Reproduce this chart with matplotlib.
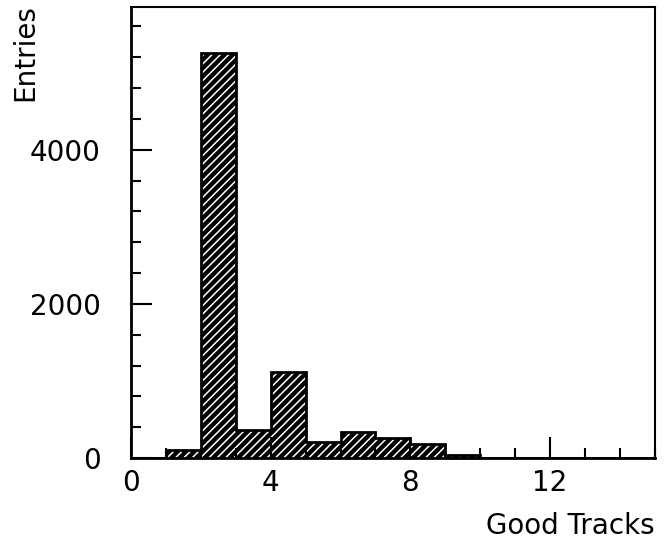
import numpy as np
import matplotlib
matplotlib.use('Agg')
from matplotlib import pyplot as plt
from matplotlib.ticker import MultipleLocator

# Histogram data: bin edges 0..15, entries per unit bin
bin_edges = np.arange(0, 16)
entries = [0, 110, 5250, 370, 1110, 205, 335, 255, 185, 35, 0, 0, 0, 0, 0]

plt.rcParams['hatch.linewidth'] = 1.1
plt.rcParams['font.family'] = 'DejaVu Sans'

fig = plt.figure(figsize=(6.66, 5.44), dpi=100)
ax = fig.add_axes([0.197, 0.158, 0.786, 0.829])

# dark fill, white hatch on top, then the step outline
ax.stairs(entries, bin_edges, fill=True, facecolor='black', edgecolor='black', linewidth=0)
ax.stairs(entries, bin_edges, fill=True, facecolor='none', edgecolor='white', hatch='////', linewidth=0)
ax.stairs(entries, bin_edges, fill=False, color='black', linewidth=2)

ax.set_xlim(0, 15)
ax.set_ylim(0, 5850)
ax.xaxis.set_major_locator(MultipleLocator(4))
ax.xaxis.set_minor_locator(MultipleLocator(1))
ax.yaxis.set_major_locator(MultipleLocator(2000))
ax.yaxis.set_minor_locator(MultipleLocator(400))

ax.tick_params(which='both', direction='in', width=1.5, labelsize=20)
ax.tick_params(which='major', length=15)
ax.tick_params(which='minor', length=7)
ax.tick_params(axis='x', which='major', pad=8)
ax.tick_params(axis='y', which='major', pad=22)

for side in ['left', 'bottom']:
    ax.spines[side].set_linewidth(2)
for side in ['top', 'right']:
    ax.spines[side].set_linewidth(1.5)

fig.text(25/666, 1 - 4/544, 'Entries', rotation=90, ha='center', va='top', fontsize=20)
fig.text(655/666, 1 - 540/544, 'Good Tracks', ha='right', va='bottom', fontsize=20)

fig.savefig('out.png', dpi=100)
